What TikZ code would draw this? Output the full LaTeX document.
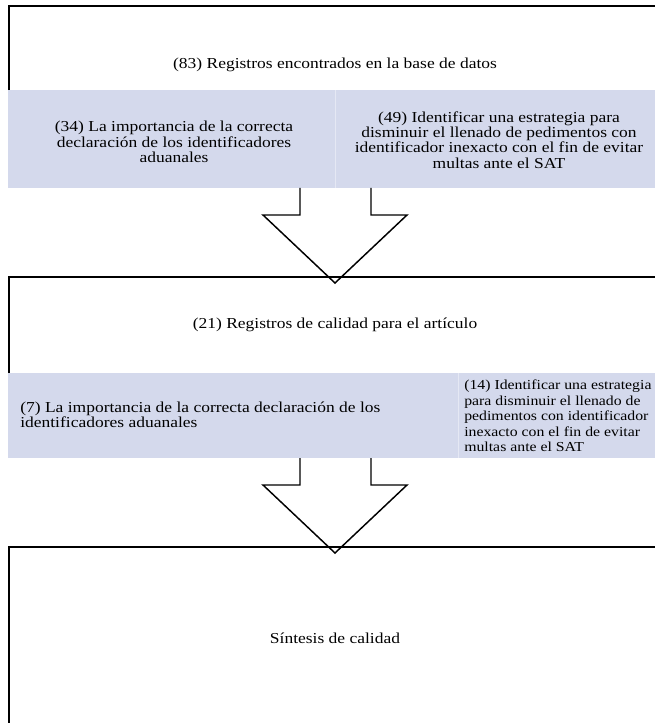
\documentclass[tikz,border=0pt]{standalone}
\usepackage{fontspec}
\setmainfont{Liberation Serif}[FakeStretch=1.15]
\usetikzlibrary{positioning}

\definecolor{bandblue}{RGB}{212,217,236}

\tikzset{
  frame/.style={line width=1.5pt},
  band/.style={fill=bandblue},
  bigarrow/.style={line width=1.1pt, line join=miter},
  txt/.style={font=\fontsize{11.4}{11.5}\selectfont, align=center, inner sep=0pt},
  ltxt/.style={txt, align=left, anchor=west},
  smalltxt/.style={ltxt, font=\fontsize{10.3}{11.6}\selectfont},
}

\begin{document}
\begin{tikzpicture}[x=0.75pt,y=-0.75pt]
  \useasboundingbox (0,0) rectangle (655,723);
  \clip (0,0) rectangle (655,723);
  \def\xl{9}   % left edge of the boxes
  \def\xr{662} % right edge, just off the page

  % first box
  \draw[frame] (\xl,90) -- (\xl,6) -- (\xr,6);
  \fill[band] (8,90) rectangle (\xr,188);
  \draw[white!40!bandblue, line width=0.6pt] (335,90) -- (335,188);
  \node[txt] (total) at (335,65) {(83) Registros encontrados en la base de datos};
  \node[txt] (imp1) at (174,142) {(34) La importancia de la correcta\\declaración de los identificadores\\aduanales};
  \node[txt] (est1) at (499,140) {(49) Identificar una estrategia para\\disminuir el llenado de pedimentos con\\identificador inexacto con el fin de evitar\\multas ante el SAT};

  % second box
  \draw[frame] (\xl,373) -- (\xl,277) -- (\xr,277);
  \fill[band] (8,373) rectangle (\xr,458);
  \draw[white!40!bandblue, line width=0.6pt] (458,373) -- (458,458);
  \node[txt] (calidad) at (335,325) {(21) Registros de calidad para el artículo};
  \node[ltxt] (imp2) at (20,415) {(7) La importancia de la correcta declaración de los\\identificadores aduanales};
  \node[smalltxt] (est2) at (464,416) {(14) Identificar una estrategia\\para disminuir el llenado de\\pedimentos con identificador\\inexacto con el fin de evitar\\multas ante el SAT};

  % third box
  \draw[frame] (\xl,723) -- (\xl,547) -- (\xr,547);
  \node[txt] (sintesis) at (335,638) {Síntesis de calidad};

  % block arrows between the boxes
  \foreach \y in {188,458} {
    \draw[bigarrow] (300,\y) -- ++(0,27) -- ++(-37,0) -- ++(72,68)
      -- ++(72,-68) -- ++(-36,0) -- ++(0,-27);
  }
\end{tikzpicture}
\end{document}
